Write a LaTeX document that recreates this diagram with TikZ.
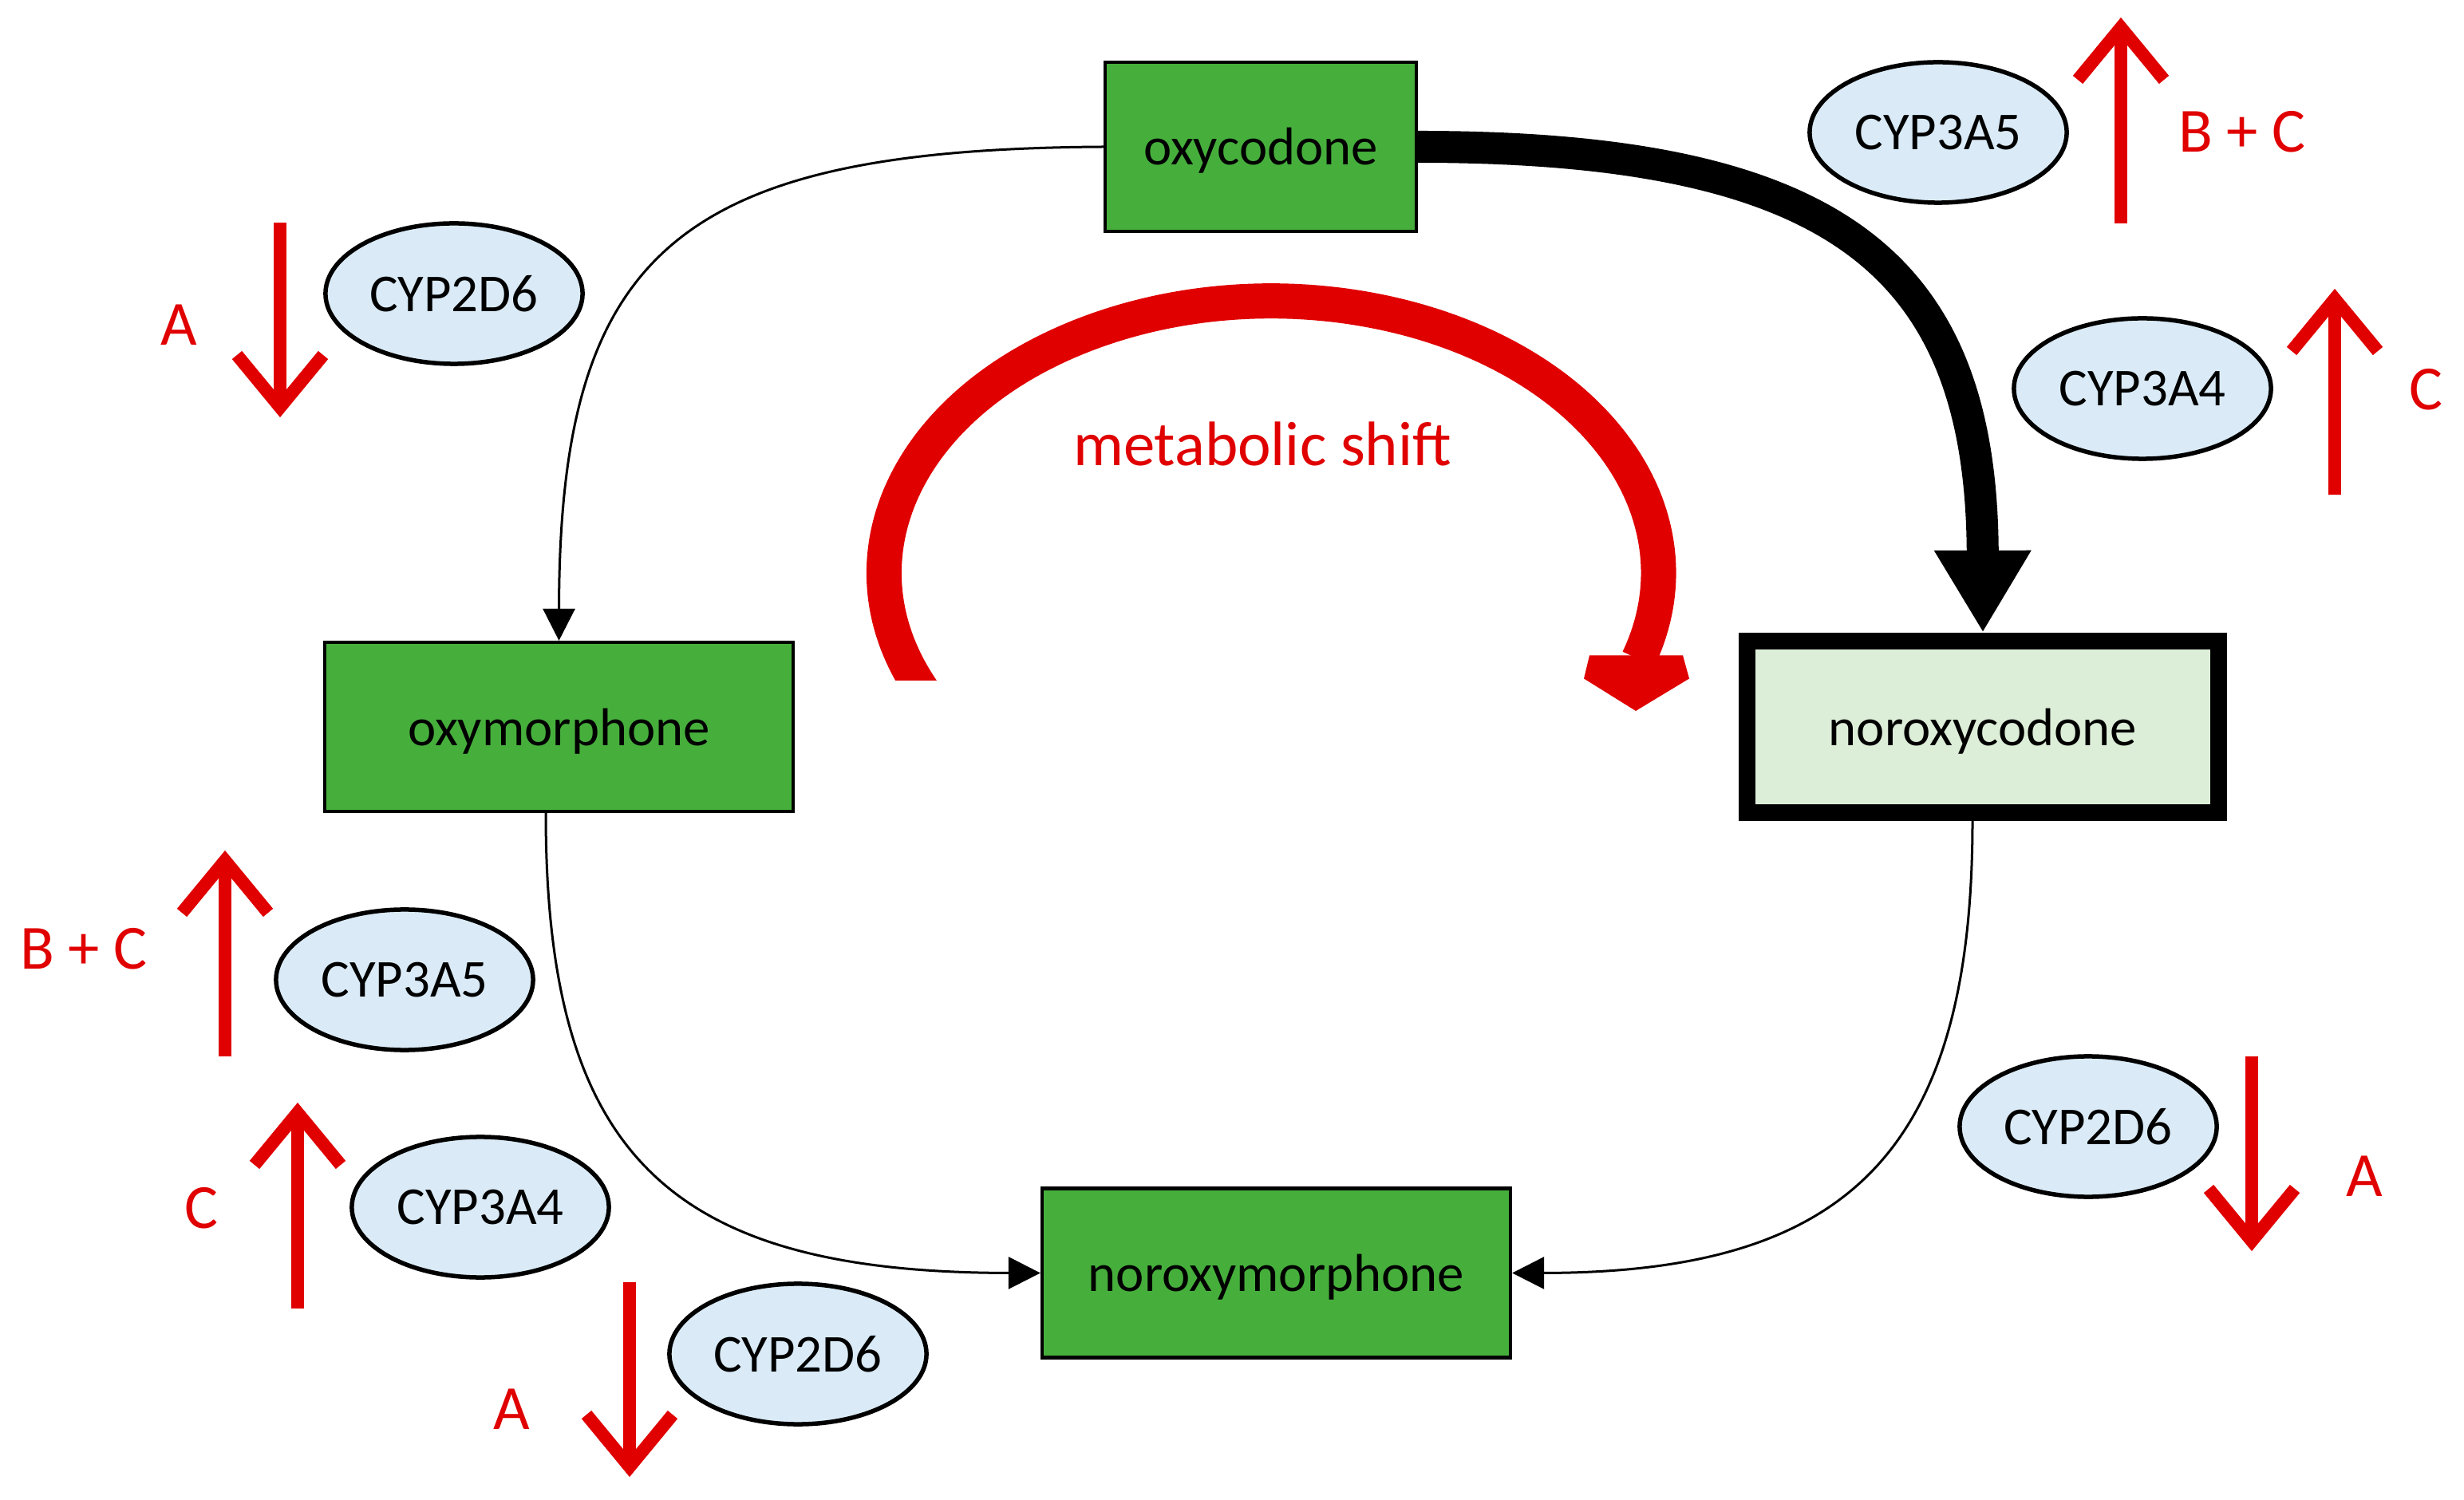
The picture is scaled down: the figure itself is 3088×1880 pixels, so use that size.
\documentclass[tikz,border=0pt]{standalone}
\usepackage{fontspec}
\setmainfont{Carlito}
\usetikzlibrary{arrows.meta,shapes.geometric}
\definecolor{boxgreen}{RGB}{70,175,60}
\definecolor{palegreen}{RGB}{221,238,216}
\definecolor{paleblue}{RGB}{218,235,247}
\definecolor{shiftred}{RGB}{224,0,0}
\tikzset{
  compound/.style={draw=black, fill=boxgreen, line width=0.045cm,
    minimum width=5.865cm, minimum height=2.115cm, inner sep=0pt,
    text height=0.52cm, text depth=0.06cm,
    font=\fontsize{19pt}{23pt}\selectfont},
  major/.style={compound, fill=palegreen, line width=0.21cm,
    minimum width=5.91cm, minimum height=2.15cm},
  enzyme/.style={ellipse, draw=black, fill=paleblue, line width=0.055cm,
    minimum width=3.22cm, minimum height=1.76cm, inner sep=0pt,
    font=\fontsize{19pt}{23pt}\selectfont},
  effect/.style={text=shiftred, anchor=base, inner sep=0pt,
    font=\fontsize{22.4pt}{27pt}\selectfont},
  conn/.style={draw=black, line width=0.03cm,
    -{Triangle[length=0.4cm,width=0.4cm]}},
  mainconn/.style={draw=black, line width=0.4cm,
    -{Triangle[length=1.03cm,width=1.14cm]}},
  redline/.style={draw=shiftred, line width=0.16cm, line join=miter, miter limit=10},
  redup/.pic={
    \draw[redline] (0,0) -- (0,-245);
    \draw[redline] (-54,-180) -- (0,-245.5) -- (54,-180);
  },
  reddown/.pic={
    \draw[redline] (0,0) -- (0,231);
    \draw[redline] (-54,166) -- (0,231.5) -- (54,166);
  }
}
\begin{document}
\begin{tikzpicture}[x=0.01cm, y=-0.01cm]
\useasboundingbox[fill=white] (0,0) rectangle (3088,1880);

% metabolic shift arrow
\begin{scope}
  \clip (1000,300) rectangle (2200,853);
  \draw[shiftred, line width=0.44cm] (1164.8,877.9)
    arc[start angle=208, end angle=-18.5, x radius=4.85cm, y radius=3.405cm];
\end{scope}
\fill[shiftred] (1992,821.4) -- (2109,821.4) -- (2117,850.5) -- (2050,891)
  -- (1985,850.5) -- cycle;
\node[effect] (ms) at (1582,584) {metabolic shift};

% compounds
\node[compound, minimum width=3.895cm] (oxy) at (1580,184) {oxycodone};
\node[compound] (om) at (700.5,911) {oxymorphone};
\node[major] (nc) at (2485,911) {noroxycodone};
\node[compound] (nm) at (1599.5,1595.5) {noroxymorphone};

% connectors
\draw[conn] (oxy.west) .. controls (850,187) and (701,315) .. (om.north);
\draw[mainconn] (oxy.east) .. controls (2300,184) and (2484,330) .. (nc.north);
\draw[conn] ([xshift=-0.165cm]om.south) .. controls (684,1450) and (840,1595) .. (nm.west);
\draw[conn] ([xshift=-0.13cm]nc.south) .. controls (2472,1450) and (2310,1595) .. (nm.east);

% enzymes
\node[enzyme] (e1) at (569,368) {CYP2D6};
\node[enzyme] (e2) at (2429,166) {CYP3A5};
\node[enzyme] (e3) at (2685,487) {CYP3A4};
\node[enzyme] (e4) at (507,1228) {CYP3A5};
\node[enzyme] (e5) at (602,1513) {CYP3A4};
\node[enzyme] (e6) at (1000,1697) {CYP2D6};
\node[enzyme] (e7) at (2617,1412) {CYP2D6};

% regulation arrows
\pic at (351,279) {reddown};
\pic at (2658,280) {redup};
\pic at (2926,620) {redup};
\pic at (282,1324) {redup};
\pic at (373,1640) {redup};
\pic at (789,1607) {reddown};
\pic at (2822,1324) {reddown};

% regulation labels
\node[effect] (l1) at (224,433) {A};
\node[effect] (l2) at (2810,191) {B + C};
\node[effect] (l3) at (3040,514) {C};
\node[effect] (l4) at (105,1215) {B + C};
\node[effect] (l5) at (252,1539) {C};
\node[effect] (l6) at (641,1791) {A};
\node[effect] (l7) at (2963,1499) {A};
\end{tikzpicture}
\end{document}
